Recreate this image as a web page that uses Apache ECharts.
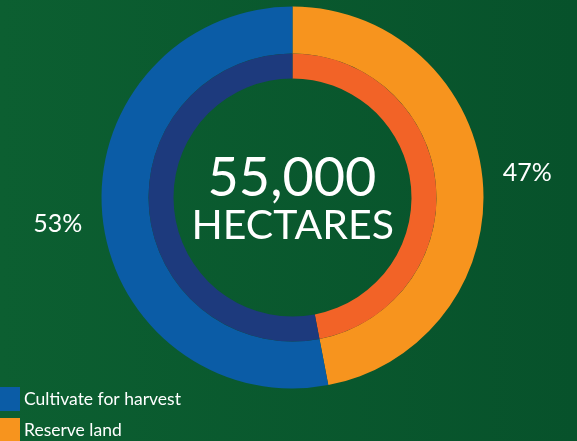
<!DOCTYPE html>
<html>
<head>
<meta charset="utf-8">
<script src="https://cdn.jsdelivr.net/npm/echarts@6/dist/echarts.min.js"></script>
<style>
html,body{margin:0;padding:0;}
#chart{width:577px;height:441px;}
</style>
</head>
<body>
<div id="chart"></div>
<script>
const categories = ['Reserve land', 'Cultivate for harvest'];
const shares = [47, 53];
const outerColors = ['#F7941E', '#0B5CA6'];
const innerColors = ['#F26327', '#1D3A7D'];
const legendOrder = ['Cultivate for harvest', 'Reserve land'];
const centerValue = '55,000';
const centerUnit = 'HECTARES';

const chart = echarts.init(document.getElementById('chart'));
chart.setOption({
  backgroundColor: {
    type: 'linear', x: 0, y: 0, x2: 1, y2: 0,
    colorStops: [{offset: 0, color: '#0C5F31'}, {offset: 1, color: '#07522B'}]
  },
  animation: false,
  legend: {
    data: legendOrder,
    orient: 'vertical',
    left: 0,
    top: 387,
    height: 120,
    padding: 0,
    itemWidth: 20,
    itemHeight: 24,
    itemGap: 7,
    icon: 'rect',
    textStyle: {color: '#FFFFFF', fontFamily: 'Lato', fontSize: 17.5, padding: [0, 0, 0, -1]},
    selectedMode: false
  },
  graphic: [
    {type: 'text', left: 292.5 - 85, top: 152, style: {text: centerValue, fill: '#FFFFFF', font: '54px Lato', width: 170, align: 'center'}},
    {type: 'text', left: 292.5 - 101, top: 205, style: {text: centerUnit, fill: '#FFFFFF', font: '41px Lato', width: 202, align: 'center'}}
  ],
  series: [
    {
      type: 'pie',
      center: [292.5, 197.5],
      radius: [144, 191],
      startAngle: 90,
      silent: true,
      data: categories.map((c, i) => ({name: c, value: shares[i], itemStyle: {color: outerColors[i]}})),
      label: {
        show: true,
        position: 'outside',
        formatter: p => p.value + '%',
        color: '#FFFFFF',
        fontFamily: 'Lato',
        fontSize: 25,
        distanceToLabelLine: 0
      },
      labelLine: {show: false, length: 0, length2: 18},
      labelLayout: p => (p.dataIndex === 0 ? {dx: 2, dy: -7} : {dx: -2, dy: 8})
    },
    {
      type: 'pie',
      center: [292.5, 197.5],
      radius: [119, 144],
      startAngle: 90,
      silent: true,
      data: categories.map((c, i) => ({name: c, value: shares[i], itemStyle: {color: innerColors[i]}})),
      label: {show: false},
      labelLine: {show: false}
    }
  ]
});
</script>
</body>
</html>
